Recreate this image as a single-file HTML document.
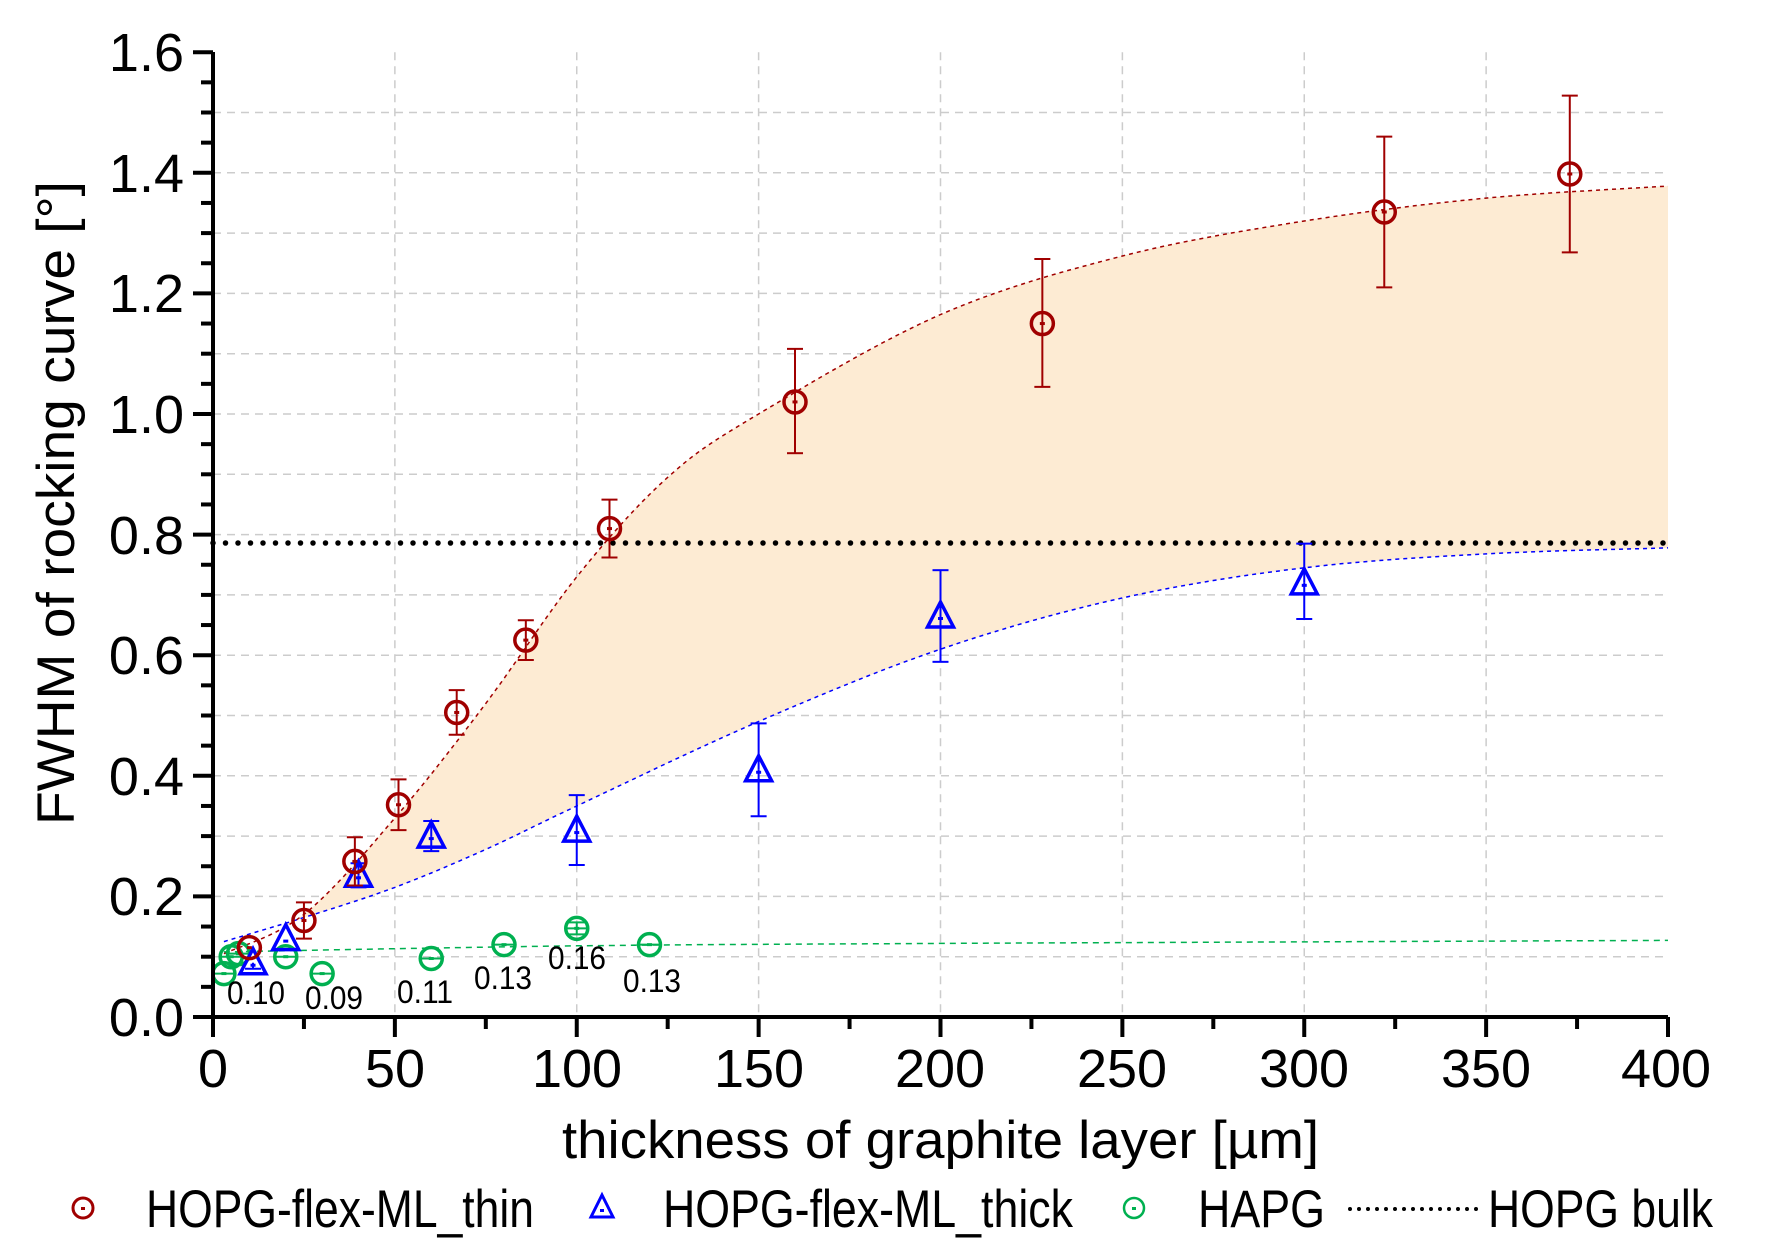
<!DOCTYPE html>
<html><head><meta charset="utf-8"><style>
html,body{margin:0;padding:0;background:#fff;}
svg{display:block;font-family:"Liberation Sans",Arial,sans-serif;}
</style></head><body>
<svg id="s" width="1771" height="1251" viewBox="0 0 1771 1251" xmlns="http://www.w3.org/2000/svg">
<g id="grid"></g>
<path id="fill" fill="#fdebd3" stroke="none"/>
<path id="redc" fill="none" stroke="#a00000" stroke-width="1.5" stroke-dasharray="4,4"/>
<path id="bluec" fill="none" stroke="#0000ff" stroke-width="1.5" stroke-dasharray="4,4"/>
<path id="greenc" fill="none" stroke="#00b050" stroke-width="1.5" stroke-dasharray="6,5"/>
<line x1="213" y1="543" x2="1669" y2="543" stroke="#000" stroke-width="5.5" stroke-linecap="round" stroke-dasharray="0,12.5"/>
<g id="pts"></g>
<g id="axes" stroke="#000" stroke-width="4" fill="none"></g>
<g font-size="54" fill="#000" text-anchor="end">
<text x="184" y="1036">0.0</text>
<text x="184" y="915">0.2</text>
<text x="184" y="795">0.4</text>
<text x="184" y="674">0.6</text>
<text x="184" y="554">0.8</text>
<text x="184" y="433">1.0</text>
<text x="184" y="312">1.2</text>
<text x="184" y="192">1.4</text>
<text x="184" y="71">1.6</text>
</g>
<g font-size="54" fill="#000" text-anchor="middle">
<text x="213" y="1087">0</text>
<text x="395" y="1087">50</text>
<text x="577" y="1087">100</text>
<text x="759" y="1087">150</text>
<text x="940" y="1087">200</text>
<text x="1122" y="1087">250</text>
<text x="1304" y="1087">300</text>
<text x="1486" y="1087">350</text>
<text x="1666" y="1087">400</text>
</g>
<text x="562" y="1158" font-size="53" textLength="757" lengthAdjust="spacingAndGlyphs">thickness of graphite layer [µm]</text>
<text transform="translate(74,825) rotate(-90)" font-size="53" textLength="644" lengthAdjust="spacingAndGlyphs">FWHM of rocking curve [°]</text>
<g font-size="32" fill="#000">
<text x="227" y="1004" textLength="58" lengthAdjust="spacingAndGlyphs">0.10</text>
<text x="305" y="1009" textLength="58" lengthAdjust="spacingAndGlyphs">0.09</text>
<text x="397" y="1003" textLength="56" lengthAdjust="spacingAndGlyphs">0.11</text>
<text x="474" y="989" textLength="58" lengthAdjust="spacingAndGlyphs">0.13</text>
<text x="548" y="969" textLength="58" lengthAdjust="spacingAndGlyphs">0.16</text>
<text x="623" y="992" textLength="58" lengthAdjust="spacingAndGlyphs">0.13</text>
</g>
<g font-size="53" fill="#000">
<text x="146" y="1227" textLength="388" lengthAdjust="spacingAndGlyphs">HOPG-flex-ML_thin</text>
<text x="663" y="1227" textLength="410" lengthAdjust="spacingAndGlyphs">HOPG-flex-ML_thick</text>
<text x="1198" y="1227" textLength="127" lengthAdjust="spacingAndGlyphs">HAPG</text>
<text x="1488" y="1227" textLength="225" lengthAdjust="spacingAndGlyphs">HOPG bulk</text>
</g>
<line x1="1350" y1="1209" x2="1479" y2="1209" stroke="#000" stroke-width="4" stroke-linecap="round" stroke-dasharray="0,9"/>
<g id="leg"></g>
</svg>
<script>
var NS="http://www.w3.org/2000/svg";
function X(t){return 213+3.6375*t;}
function Y(v){return 1017-603*v;}
function el(p,tag,a){var e=document.createElementNS(NS,tag);for(var k in a)e.setAttribute(k,a[k]);p.appendChild(e);return e;}
var grid=document.getElementById('grid');
for(var i=1;i<=15;i++){el(grid,'line',{x1:213,x2:1668,y1:Y(i/10),y2:Y(i/10),stroke:'#cccccc','stroke-width':1.5,'stroke-dasharray':'8,6'});}
for(var t=50;t<400;t+=50){el(grid,'line',{x1:X(t),x2:X(t),y1:Y(1.6),y2:1017,stroke:'#cccccc','stroke-width':1.5,'stroke-dasharray':'8,6'});}
function interp(pts){
  var out=[];for(var i=0;i<pts.length-1;i++){var p0=pts[Math.max(0,i-1)],p1=pts[i],p2=pts[i+1],p3=pts[Math.min(pts.length-1,i+2)];
  for(var s=0;s<10;s++){var u=s/10,u2=u*u,u3=u2*u;
  var f=function(a,b,c,d){return 0.5*((2*b)+(-a+c)*u+(2*a-5*b+4*c-d)*u2+(-a+3*b-3*c+d)*u3);};
  out.push([f(p0[0],p1[0],p2[0],p3[0]),f(p0[1],p1[1],p2[1],p3[1])]);}}
  out.push(pts[pts.length-1]);return out.map(function(p){return [X(p[0]),Y(p[1])];});}
var red=interp([[3,0.105],[25,0.17],[50,0.33],[75,0.52],[100,0.73],[125,0.895],[150,1.0],[200,1.165],[250,1.262],[300,1.32],[350,1.358],[400,1.378]]);
var blue=interp([[3,0.125],[25,0.165],[50,0.215],[75,0.278],[100,0.35],[150,0.49],[200,0.61],[250,0.695],[300,0.745],[350,0.768],[400,0.778]]);
var green=interp([[3,0.108],[100,0.118],[200,0.122],[400,0.127]]);
function d(a){return 'M'+a.map(function(p){return p[0].toFixed(1)+','+p[1].toFixed(1);}).join('L');}
document.getElementById('redc').setAttribute('d',d(red));
document.getElementById('bluec').setAttribute('d',d(blue));
document.getElementById('greenc').setAttribute('d',d(green));
var rf=red.filter(function(p){return p[0]>=X(20);}),bf=blue.filter(function(p){return p[0]>=X(20);}).reverse();
document.getElementById('fill').setAttribute('d',d(rf.concat(bf))+'Z');
var pts=document.getElementById('pts');
function err(x,y,up,dn,c){if(up>0){el(pts,'line',{x1:x,x2:x,y1:y,y2:y-up,stroke:c,'stroke-width':2});el(pts,'line',{x1:x-8,x2:x+8,y1:y-up,y2:y-up,stroke:c,'stroke-width':2});}
 if(dn>0){el(pts,'line',{x1:x,x2:x,y1:y,y2:y+dn,stroke:c,'stroke-width':2});el(pts,'line',{x1:x-8,x2:x+8,y1:y+dn,y2:y+dn,stroke:c,'stroke-width':2});}}
function circ(g,x,y,c){el(g,'circle',{cx:x,cy:y,r:11,fill:'#fff','fill-opacity':0.01,stroke:c,'stroke-width':3.5});el(g,'rect',{x:x-2.5,y:y-1.5,width:5,height:3,fill:c});}
function tri(g,x,y,c){el(g,'path',{d:'M'+x+','+(y-14)+'L'+(x+13)+','+(y+11)+'L'+(x-13)+','+(y+11)+'Z',fill:'none',stroke:c,'stroke-width':3.5});el(g,'rect',{x:x-2.5,y:y+1,width:5,height:3,fill:c});}
var R='#a00000',B='#0000ff',G='#00b050';
[[3,0.072],[5,0.1],[7,0.105],[20,0.1],[30,0.072],[60,0.097],[80,0.12],[100,0.147,0.01],[120,0.12]].forEach(function(p){var x=X(p[0]),y=Y(p[1]);if(p[2])err(x,y,603*p[2],603*p[2],G);el(pts,'line',{x1:x-10,x2:x+10,y1:y,y2:y,stroke:G,'stroke-width':2});circ(pts,x,y,G);});
[[11,0.09,0,0.01],[20,0.13,0,0],[40,0.235,0.02,0.02],[60,0.30,0.025,0.025],[100,0.31,0.058,0.058],[150,0.41,0.077,0.077],[200,0.665,0.076,0.076],[300,0.72,0.065,0.06]].forEach(function(p){var x=X(p[0]),y=Y(p[1]);err(x,y,603*p[2],603*p[3],B);tri(pts,x,y,B);});
[[10,0.115,0,0],[25,0.16,0.03,0.03],[39,0.258,0.04,0.04],[51,0.352,0.042,0.042],[67,0.505,0.037,0.037],[86,0.625,0.033,0.033],[109,0.81,0.048,0.048],[160,1.02,0.088,0.085],[228,1.15,0.107,0.105],[322,1.335,0.125,0.125],[373,1.398,0.13,0.13]].forEach(function(p){var x=X(p[0]),y=Y(p[1]);err(x,y,603*p[2],603*p[3],R);circ(pts,x,y,R);});
var ax=document.getElementById('axes');
el(ax,'path',{d:'M213,52V1017H1668'});
for(var i=0;i<=32;i++){var v=i*0.05,y=Y(v),L=(i%4==0)?20:12;el(ax,'line',{x1:213-L,x2:213,y1:y,y2:y});}
for(var t=0;t<=400;t+=25){var x=X(t),L=(t%50==0)?20:12;el(ax,'line',{x1:x,x2:x,y1:1017,y2:1017+L});}
var leg=document.getElementById('leg');
el(leg,'circle',{cx:83,cy:1208,r:10,fill:'none',stroke:R,'stroke-width':3});el(leg,'rect',{x:81,y:1207,width:4,height:3,fill:R});
el(leg,'path',{d:'M602,1195L613,1217L591,1217Z',fill:'none',stroke:B,'stroke-width':3});el(leg,'rect',{x:600,y:1209,width:4,height:3,fill:B});
el(leg,'circle',{cx:1134,cy:1208,r:10,fill:'none',stroke:G,'stroke-width':2.5});el(leg,'rect',{x:1132,y:1207,width:4,height:3,fill:G});
</script>
</body></html>
